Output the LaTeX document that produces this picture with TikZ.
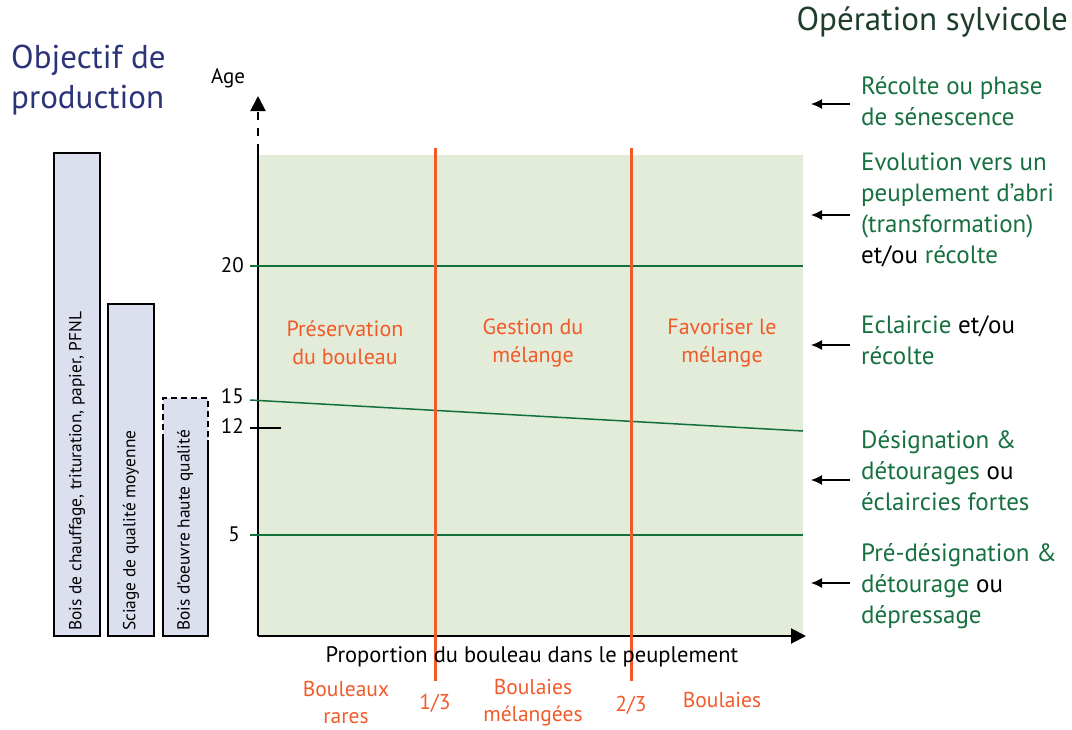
\documentclass[tikz,border=0pt]{standalone}
\usepackage{fontspec}
\setmainfont{PT Sans}
\usepackage{tikz}
\usetikzlibrary{arrows.meta}

\definecolor{zone}{HTML}{E3ECD9}
\definecolor{barrefill}{HTML}{DCE0EE}
\definecolor{vertop}{HTML}{17703F}
\definecolor{traitvert}{HTML}{13703A}
\definecolor{seuil}{HTML}{F15A29}
\definecolor{titrebleu}{HTML}{2B3379}
\definecolor{titrevert}{HTML}{1E3D2B}

\newcommand{\noir}[1]{\textcolor{black}{#1}}

\begin{document}
\begin{tikzpicture}[x=1pt,y=-1pt]
  \tikzstyle{barre}=[fill=barrefill, draw=black, line width=2pt]
  \tikzstyle{prod}=[rotate=90, anchor=west, inner sep=0pt, font=\fontsize{17.4}{20}\selectfont]
  \tikzstyle{axe}=[line width=2pt]
  \tikzstyle{graduation}=[anchor=east, inner sep=0pt, font=\fontsize{21}{24}\selectfont]
  \tikzstyle{ligne}=[draw=traitvert, line width=1.5pt]
  \tikzstyle{limite}=[draw=seuil, line width=3pt]
  \tikzstyle{zonetxt}=[text=seuil, align=center, font=\fontsize{22}{28}\selectfont]
  \tikzstyle{classe}=[text=seuil, align=center, font=\fontsize{21.5}{27}\selectfont]
  \tikzstyle{operation}=[text=vertop, anchor=west, align=left, inner sep=0pt, font=\fontsize{25}{31}\selectfont]
  \tikzstyle{fleche}=[-{Latex[length=11pt,width=10pt]}, line width=1.2pt]

  \useasboundingbox (0,0) rectangle (1072,729);

  % fond du graphique
  \fill[zone] (258,155) rectangle (803,636);

  % barres des objectifs de production
  \draw[barre] (54,153) rectangle (100,636);
  \draw[barre] (108,304) rectangle (154,636);
  \fill[barrefill] (163,398) rectangle (208,636);
  \draw[line width=2pt] (163,440) -- (163,636) -- (208,636) -- (208,440);
  \draw[line width=2pt, dash pattern=on 6pt off 4pt] (163,440) -- (163,398) -- (208,398) -- (208,440);

  \node[prod] (b_1) at (77,631)  {Bois de chauffage, trituration, papier, PFNL};
  \node[prod] (b_2) at (131,631) {Sciage de qualité moyenne};
  \node[prod] (b_3) at (185,631) {Bois d'oeuvre haute qualité};

  % titres
  \node[text=titrebleu, anchor=west, align=left, inner sep=0pt,
        font=\fontsize{33}{40}\selectfont] (t_prod) at (11,80) {Objectif de\\production};
  \node[text=titrevert, anchor=east, inner sep=0pt,
        font=\fontsize{33}{36}\selectfont] (t_op) at (1068,22) {Opération sylvicole};

  % axes
  \coordinate (o) at (258,636);
  \coordinate (x_end) at (806,636);
  \coordinate (y_cut) at (258,152);
  \coordinate (y_end) at (258,96);
  \draw[axe, -{Triangle[length=15pt,width=15pt]}] (o) -- (x_end);
  \draw[axe] (o) -- (y_cut);
  \draw[axe, dash pattern=on 8pt off 8pt, -{Triangle[length=15pt,width=15pt]}] (y_cut) -- (y_end);
  \node[font=\fontsize{21}{24}\selectfont] (age) at (228,78) {Age};

  % graduations en age
  \node[graduation] (a_20) at (244,265) {20};
  \node[graduation] (a_15) at (244,396) {15};
  \node[graduation] (a_12) at (244,426) {12};
  \node[graduation] (a_5)  at (240,534) {5};

  \draw[ligne] (250,266) -- (803,266);
  \draw[ligne] (250,400) -- (803,431);
  \draw[ligne] (250,535) -- (803,535);
  \draw[line width=1.5pt] (250,428) -- (281,428);

  % seuils de proportion
  \draw[limite] (435,148) -- (435,681);
  \draw[limite] (631,148) -- (631,681);

  \node[zonetxt] (z_1) at (345,343) {Préservation\\du bouleau};
  \node[zonetxt] (z_2) at (533,343) {Gestion du\\mélange};
  \node[zonetxt] (z_3) at (722,343) {Favoriser le\\mélange};

  \node[font=\fontsize{22.5}{24}\selectfont] (x_lab) at (532,657) {Proportion du bouleau dans le peuplement};
  \node[classe] (c_1) at (346,703) {Bouleaux\\rares};
  \node[classe] (c_13) at (435,703) {1/3};
  \node[classe] (c_2) at (533,703) {Boulaies\\mélangées};
  \node[classe] (c_23) at (631,705) {2/3};
  \node[classe] (c_3) at (722,700) {Boulaies};

  % operations sylvicoles
  \node[operation] (op_1) at (861,101) {Récolte ou phase\\de sénescence};
  \node[operation] (op_2) at (861,210) {Evolution vers un\\peuplement d’abri\\(transformation)\\\noir{et/ou} récolte};
  \node[operation] (op_3) at (861,340) {Eclaircie \noir{et/ou}\\récolte};
  \node[operation] (op_4) at (861,471) {Désignation \&\\détourages \noir{ou}\\éclaircies fortes};
  \node[operation] (op_5) at (861,586) {Pré-désignation \&\\détourage \noir{ou}\\dépressage};

  \foreach \y [count=\i] in {104,215,345,480,583} {
    \coordinate (s_\i) at (850,\y);
    \coordinate (e_\i) at (811,\y);
    \draw[fleche] (s_\i) -- (e_\i);
  }
\end{tikzpicture}
\end{document}
